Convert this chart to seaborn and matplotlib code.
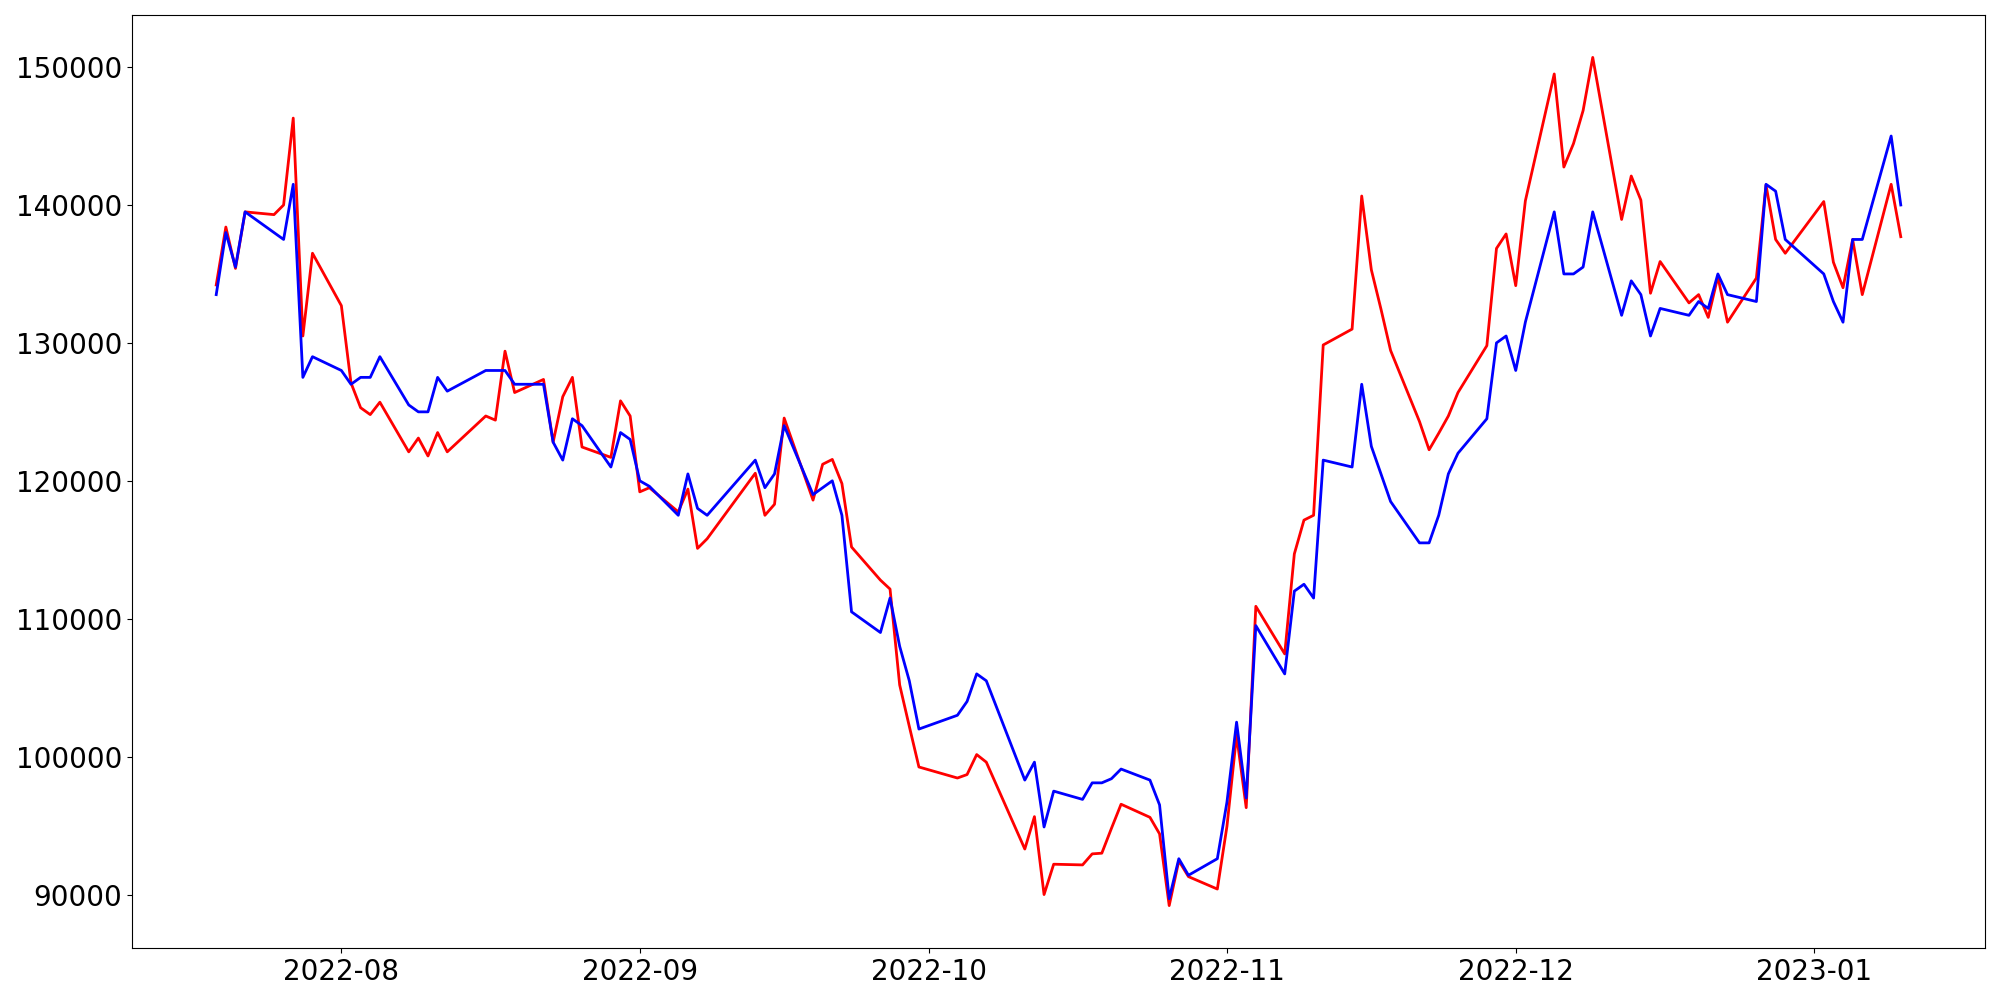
import matplotlib
matplotlib.use("Agg")
import matplotlib.pyplot as plt
import pandas as pd
import seaborn as sns

# trading days (KRX calendar, holidays skipped)
dates = [
    "2022-07-19", "2022-07-20", "2022-07-21", "2022-07-22", "2022-07-25", "2022-07-26",
    "2022-07-27", "2022-07-28", "2022-07-29",
    "2022-08-01", "2022-08-02", "2022-08-03", "2022-08-04", "2022-08-05", "2022-08-08",
    "2022-08-09", "2022-08-10", "2022-08-11", "2022-08-12", "2022-08-16", "2022-08-17",
    "2022-08-18", "2022-08-19", "2022-08-22", "2022-08-23", "2022-08-24", "2022-08-25",
    "2022-08-26", "2022-08-29", "2022-08-30", "2022-08-31",
    "2022-09-01", "2022-09-02", "2022-09-05", "2022-09-06", "2022-09-07", "2022-09-08",
    "2022-09-13", "2022-09-14", "2022-09-15", "2022-09-16", "2022-09-19", "2022-09-20",
    "2022-09-21", "2022-09-22", "2022-09-23", "2022-09-26", "2022-09-27", "2022-09-28",
    "2022-09-29", "2022-09-30",
    "2022-10-04", "2022-10-05", "2022-10-06", "2022-10-07", "2022-10-11", "2022-10-12",
    "2022-10-13", "2022-10-14", "2022-10-17", "2022-10-18", "2022-10-19", "2022-10-20",
    "2022-10-21", "2022-10-24", "2022-10-25", "2022-10-26", "2022-10-27", "2022-10-28",
    "2022-10-31",
    "2022-11-01", "2022-11-02", "2022-11-03", "2022-11-04", "2022-11-07", "2022-11-08",
    "2022-11-09", "2022-11-10", "2022-11-11", "2022-11-14", "2022-11-15", "2022-11-16",
    "2022-11-17", "2022-11-18", "2022-11-21", "2022-11-22", "2022-11-23", "2022-11-24",
    "2022-11-25", "2022-11-28", "2022-11-29", "2022-11-30",
    "2022-12-01", "2022-12-02", "2022-12-05", "2022-12-06", "2022-12-07", "2022-12-08",
    "2022-12-09", "2022-12-12", "2022-12-13", "2022-12-14", "2022-12-15", "2022-12-16",
    "2022-12-19", "2022-12-20", "2022-12-21", "2022-12-22", "2022-12-23", "2022-12-26",
    "2022-12-27", "2022-12-28", "2022-12-29",
    "2023-01-02", "2023-01-03", "2023-01-04", "2023-01-05", "2023-01-06", "2023-01-09",
    "2023-01-10",
]

# red line
predicted = [
    134200, 138400, 135400, 139500, 139300, 140000, 146300, 130500, 136500,
    132700, 127100, 125300, 124800, 125700, 122100, 123100, 121800, 123500, 122100,
    124700, 124400, 129400, 126400, 127350, 122800, 126100, 127500, 122450, 121700,
    125800, 124700,
    119200, 119500, 117750, 119400, 115100, 115800, 120550, 117500, 118300, 124550,
    118600, 121200, 121550, 119800, 115200, 112800, 112150, 105200, 102200, 99250,
    98450, 98700, 100150, 99600, 93300, 95650, 90000, 92200, 92150, 92950, 93000,
    94800, 96550, 95600, 94400, 89200, 92450, 91300, 90400,
    94950, 101550, 96300, 110900, 107450, 114700, 117150, 117500, 129850, 131000,
    140650, 135300, 132450, 129450, 124300, 122250, 123450, 124700, 126400, 129800,
    136850, 137900,
    134150, 140300, 149500, 142750, 144450, 146850, 150700, 138950, 142100, 140350,
    133600, 135900, 132900, 133500, 131850, 134800, 131500, 134700, 141450, 137500,
    136500,
    140250, 135850, 134000, 137500, 133500, 141500, 137700,
]

# blue line
actual = [
    133500, 138000, 135500, 139500, 138000, 137500, 141500, 127500, 129000,
    128000, 127000, 127500, 127500, 129000, 125500, 125000, 125000, 127500, 126500,
    128000, 128000, 128000, 127000, 127000, 122800, 121500, 124500, 124000, 121000,
    123500, 123000,
    120000, 119600, 117500, 120500, 118000, 117500, 121500, 119500, 120500, 124000,
    119000, 119500, 120000, 117500, 110500, 109000, 111500, 108000, 105500, 102000,
    103000, 104000, 106000, 105500, 98300, 99600, 94900, 97500, 96900, 98100, 98100,
    98400, 99100, 98300, 96500, 89700, 92600, 91400, 92600,
    96700, 102500, 97000, 109500, 106000, 112000, 112500, 111500, 121500, 121000,
    127000, 122500, 120500, 118500, 115500, 115500, 117500, 120500, 122000, 124500,
    130000, 130500,
    128000, 131500, 139500, 135000, 135000, 135500, 139500, 132000, 134500, 133500,
    130500, 132500, 132000, 133000, 132500, 135000, 133500, 133000, 141500, 141000,
    137500,
    135000, 133000, 131500, 137500, 137500, 145000, 140000,
]

df = pd.DataFrame({
    "date": pd.to_datetime(dates),
    "predicted": predicted,
    "actual": actual,
})

fig, ax = plt.subplots(figsize=(20, 10), dpi=100)
fig.subplots_adjust(left=0.066, right=0.9925, top=0.985, bottom=0.052)

sns.lineplot(data=df, x="date", y="predicted", color="red", linewidth=2, ax=ax)
sns.lineplot(data=df, x="date", y="actual", color="blue", linewidth=2, ax=ax)

ax.set_xlabel("")
ax.set_ylabel("")
ax.tick_params(axis="both", labelsize=20)

plt.savefig("out.png")
